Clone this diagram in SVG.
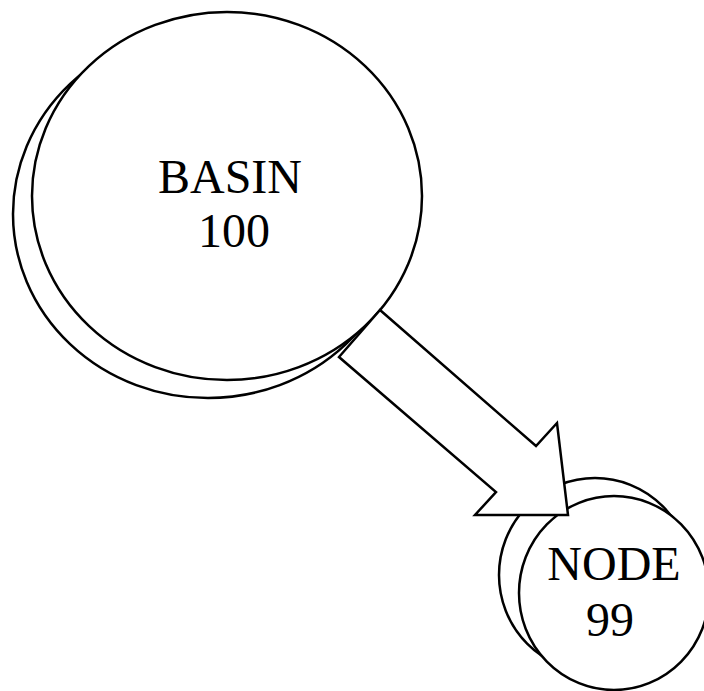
<svg xmlns="http://www.w3.org/2000/svg" width="704" height="691" viewBox="0 0 704 691">
<style>
.c{fill:#fff;stroke:#000;stroke-width:2.5}
.t{font-family:"Liberation Serif","Times New Roman",serif;font-size:48px;fill:#000;text-anchor:middle}
</style>
<rect width="704" height="691" fill="#fff"/>
<g id="basin">
<ellipse class="c" cx="208" cy="214" rx="195" ry="184"/>
<ellipse class="c" cx="227" cy="196" rx="195" ry="184"/>
<text class="t" x="230" y="193">BASIN</text>
<text class="t" x="234" y="247">100</text>
</g>
<g id="node99">
<ellipse class="c" cx="595" cy="575" rx="96" ry="97"/>
<ellipse class="c" cx="614" cy="593" rx="95" ry="97"/>
<text class="t" x="614" y="580">NODE</text>
<text class="t" x="610" y="636">99</text>
</g>
<g id="connectors">
<polygon class="c" stroke-linejoin="miter" points="380,310 536,446 557,423 568,515 475,515 496,492 339,357"/>
</g>
</svg>
